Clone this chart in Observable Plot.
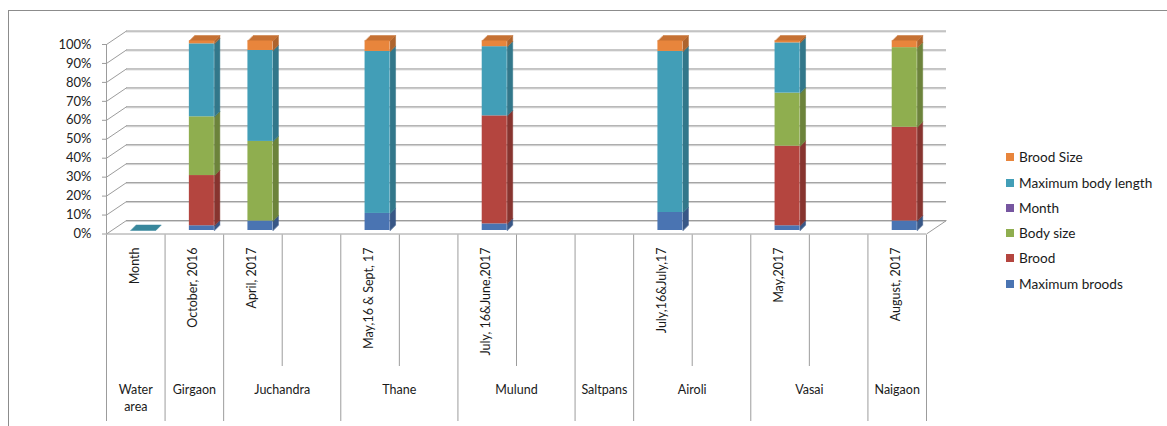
<!DOCTYPE html>
<html>
<head>
<meta charset="utf-8">
<script src="https://cdn.jsdelivr.net/npm/d3@7"></script>
<script src="https://cdn.jsdelivr.net/npm/@observablehq/plot@0.6"></script>
<style>
  body { margin: 0; background: #fff; font-family: Lato, "Open Sans", sans-serif; }
  #wrap { position: relative; width: 1167px; height: 426px; overflow: hidden; }
  #frame { position: absolute; left: 8px; top: 10px; width: 1300px; height: 600px;
           border-left: 1px solid #8c8c8c; border-top: 1px solid #8c8c8c; }
  #chart { position: absolute; left: 0; top: 0; }
  #legend { position: absolute; left: 1006px; top: 144.6px; font-size: 13.6px; color: #1a1a1a; }
  #legend .item { height: 25.3px; display: flex; align-items: center; white-space: nowrap; }
  #legend .sw { width: 8px; height: 8px; margin-right: 5px; flex: none; }
</style>
</head>
<body>
<div id="wrap">
  <div id="frame"></div>
  <div id="chart"></div>
  <div id="legend"></div>
</div>
<script>
// Water areas (upper category level), how many columns each spans, and the month labels
const areas = ["Water area", "Girgaon", "Juchandra", "Thane", "Mulund", "Saltpans", "Airoli", "Vasai", "Naigaon"];
const areaSpans = [1, 1, 2, 2, 2, 1, 2, 2, 1];
const monthLabels = ["Month", "October, 2016", "April, 2017", "May,16 & Sept, 17", "July, 16&June,2017", "", "July,16&July,17", "May,2017", "August, 2017"];

// Series, stacked bottom to top (percent of each column)
const seriesNames = ["Maximum broods", "Brood", "Body size", "Month", "Maximum body length", "Brood Size"];
const seriesColors = ["#4a74b2", "#b4453f", "#8fae4f", "#7656a0", "#429eb7", "#e8853c"];
const maximumBroods     = [null, 2.5, 5,    9,    3.5,  null, 9.5,  2.5,  5];
const brood             = [null, 26.5, null, null, 57,  null, null, 42,   49.5];
const bodySize          = [null, 31,  42,   null, null, null, null, 28,   42];
const month             = [null, null, null, null, null, null, null, null, null];
const maximumBodyLength = [0,    38.5, 48,  85.5, 36.5, null, 85,   26.5, null];
const broodSize         = [null, 1.5, 5,    5.5,  3,    null, 5.5,  1,    3.5];
const seriesValues = [maximumBroods, brood, bodySize, month, maximumBodyLength, broodSize];

const yTicks = d3.range(0, 101, 10);

// Layout
const W = 1167, H = 426;
const M = {left: 106, right: 241, top: 44, bottom: 192.5};
const nSlots = d3.sum(areaSpans);
const SLOT_PX = (W - M.left - M.right) / nSlots;
const Y_PX = (H - M.top - M.bottom) / 100;
const ux = px => px / SLOT_PX;
const uy = px => px / Y_PX;
const WALL = {dx: 20, dy: 13.5};               // depth of the back wall
const BAR = {w: 25, dx: 7.5, dy: -3.5, sx: 5.5, sy: 5.5}; // bar face width, placement and side depth

const starts = areaSpans.map((_, i) => d3.sum(areaSpans.slice(0, i)));
const shade = (c, k) => d3.color(c).darker(k).formatHex();

// Stack the segments of each column
const segments = [];
const tops = [];
areas.forEach((area, i) => {
  let base = 0;
  const segs = [];
  seriesNames.forEach((name, s) => {
    const v = seriesValues[s][i];
    if (v == null) return;
    const slot = starts[i];
    segs.push({
      id: `${area}|${name}`, area, series: name, color: seriesColors[s],
      xl: slot + 0.5 - ux(BAR.w / 2), xr: slot + 0.5 + ux(BAR.w / 2),
      y1: base, y2: base + v
    });
    base += v;
  });
  if (!segs.length) return;
  segments.push(...segs);
  const filled = segs.filter(d => d.y2 > d.y1);
  tops.push(filled.length ? filled[filled.length - 1] : segs[segs.length - 1]);
});

// Right-hand faces and top faces as closed polygons
const sideFaces = segments.filter(d => d.y2 > d.y1).flatMap(d => [
  {id: d.id, x: d.xr, y: d.y1, fill: shade(d.color, 0.8)},
  {id: d.id, x: d.xr, y: d.y2, fill: shade(d.color, 0.8)},
  {id: d.id, x: d.xr + ux(BAR.sx), y: d.y2 + uy(BAR.sy), fill: shade(d.color, 0.8)},
  {id: d.id, x: d.xr + ux(BAR.sx), y: d.y1 + uy(BAR.sy), fill: shade(d.color, 0.8)}
]);
const topFaces = tops.flatMap(d => [
  {id: d.id, x: d.xl, y: d.y2, fill: shade(d.color, 0.45)},
  {id: d.id, x: d.xr, y: d.y2, fill: shade(d.color, 0.45)},
  {id: d.id, x: d.xr + ux(BAR.sx), y: d.y2 + uy(BAR.sy), fill: shade(d.color, 0.45)},
  {id: d.id, x: d.xl + ux(BAR.sx), y: d.y2 + uy(BAR.sy), fill: shade(d.color, 0.45)}
]);

// Category axis pieces
const areaRows = areas.map((name, i) => ({name, month: monthLabels[i], start: starts[i], span: areaSpans[i]}));
const majorSeps = [0, ...areaRows.map(d => d.start + d.span)];
const minorSeps = areaRows.filter(d => d.span > 1).map(d => d.start + 1);
const axisDepth = H - M.top - M.bottom; // shifts a frame-spanning rule to just below the floor

const chart = Plot.plot({
  width: W, height: H,
  marginLeft: M.left, marginRight: M.right, marginTop: M.top, marginBottom: M.bottom,
  x: {domain: [0, nSlots], axis: null},
  y: {domain: [0, 100], axis: null},
  style: {fontFamily: "Lato, 'Open Sans', sans-serif", fontSize: "13px", color: "#222", overflow: "visible"},
  marks: [
    // back wall grid with a soft shadow line
    Plot.ruleY(yTicks, {x1: 0, x2: nSlots, dx: WALL.dx, dy: -WALL.dy + 1, stroke: "#d4d4d4"}),
    Plot.ruleY(yTicks, {x1: 0, x2: nSlots, dx: WALL.dx, dy: -WALL.dy, stroke: "#9c9c9c"}),
    // side wall diagonals from the value axis to the back wall
    Plot.link(yTicks, {x1: 0, y1: d => d, x2: ux(WALL.dx), y2: d => d + uy(WALL.dy), stroke: "#9c9c9c"}),
    // floor edges
    Plot.link([0], {x1: nSlots, y1: 0, x2: nSlots + ux(WALL.dx), y2: uy(WALL.dy), stroke: "#9c9c9c"}),
    Plot.ruleY([0], {x1: 0, x2: nSlots, stroke: "#9c9c9c"}),
    Plot.ruleX([0], {y1: 0, y2: 100, stroke: "#9c9c9c"}),
    // value axis
    Plot.axisY(yTicks, {anchor: "left", tickSize: 4, tickPadding: 11, tickFormat: d => d + "%",
      stroke: "#9c9c9c", fill: "#222", fontSize: 13, label: null}),
    // bars: side faces, top faces, front faces
    Plot.line(sideFaces, {x: "x", y: "y", z: "id", fill: "fill", stroke: "fill", strokeWidth: 0.5,
      curve: "linear-closed", dx: BAR.dx, dy: BAR.dy}),
    Plot.line(topFaces, {x: "x", y: "y", z: "id", fill: "fill", stroke: "fill", strokeWidth: 0.5,
      curve: "linear-closed", dx: BAR.dx, dy: BAR.dy}),
    Plot.rect(segments.filter(d => d.y2 > d.y1), {x1: "xl", x2: "xr", y1: "y1", y2: "y2",
      fill: "color", dx: BAR.dx, dy: BAR.dy}),
    // category axis separators below the floor
    Plot.ruleX(majorSeps, {stroke: "#9c9c9c", dy: axisDepth + 1, insetBottom: 3}),
    Plot.ruleX(minorSeps, {stroke: "#9c9c9c", dy: axisDepth + 1, insetBottom: 58}),
    // month labels (rotated) and water area labels
    Plot.text(areaRows.filter(d => d.month), {x: d => d.start + 0.5, text: "month", rotate: -90,
      textAnchor: "end", frameAnchor: "bottom", dy: 13.5, dx: 3, fontSize: 12.5, fill: "#1a1a1a"}),
    Plot.text(areaRows, {x: d => d.start + d.span / 2,
      text: d => d.span === 1 ? d.name.replace(" ", "\n") : d.name,
      frameAnchor: "bottom", lineAnchor: "top", lineHeight: 1.36, dy: 147.5, fontSize: 12.5, fill: "#1a1a1a"})
  ]
});
document.getElementById("chart").append(chart);

// Legend, listed top of stack first
const legend = d3.select("#legend");
seriesNames.map((name, s) => ({name, color: seriesColors[s]})).reverse().forEach(d => {
  const item = legend.append("div").attr("class", "item");
  item.append("div").attr("class", "sw").style("background", d.color);
  item.append("span").text(d.name);
});
</script>
</body>
</html>
